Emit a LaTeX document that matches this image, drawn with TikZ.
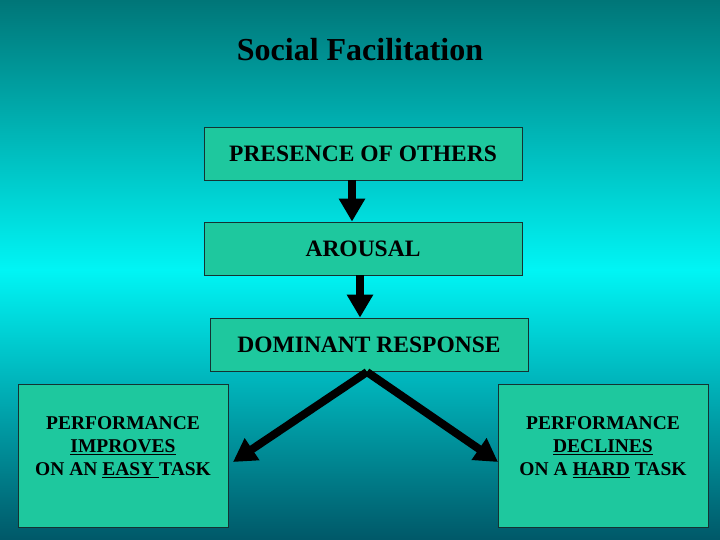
\documentclass[tikz,border=0pt]{standalone}
\usepackage{fontspec}
\setmainfont{Liberation Serif}
\usetikzlibrary{arrows.meta}
\definecolor{bgtop}{RGB}{0,118,120}
\definecolor{bgmid}{RGB}{0,245,245}
\definecolor{bgbot}{RGB}{0,88,104}
\definecolor{boxfill}{RGB}{30,200,158}
\definecolor{boxline}{RGB}{20,50,50}
\tikzset{
  stagebox/.style={draw=boxline, line width=0.8pt, fill=boxfill, inner sep=0pt, font=\bfseries\fontsize{23.5}{28}\selectfont},
  outbox/.style={draw=boxline, line width=0.8pt, fill=boxfill, inner sep=0pt, minimum width=210pt, minimum height=143pt},
  outtext/.style={align=center, inner sep=0pt, font=\bfseries\fontsize{19.5}{23}\selectfont},
  bigarrow/.style={line width=8pt, -{Triangle[length=23pt,width=25pt]}, black},
}
\begin{document}
\begin{tikzpicture}[x=1pt,y=-1pt]
\useasboundingbox (0,0) rectangle (720,540);
\shade[top color=bgtop, bottom color=bgbot, middle color=bgmid] (0,0) rectangle (720,540);
\node[font=\bfseries\fontsize{32}{36}\selectfont] (title) at (360,50) {Social Facilitation};
\node[stagebox, minimum width=318pt, minimum height=53pt] (presence) at (363,153.5) {PRESENCE OF OTHERS};
\node[stagebox, minimum width=318pt, minimum height=53pt] (arousal) at (363,248.5) {AROUSAL};
\node[stagebox, minimum width=318pt, minimum height=53pt] (dominant) at (369,344.5) {DOMINANT RESPONSE};
\node[outbox] (improves) at (123,455.5) {};
\node[outtext] (improvestext) at (123,447) {PERFORMANCE\\\underline{IMPROVES}\\ON AN \underline{EASY\ }TASK};
\node[outbox] (declines) at (603,455.5) {};
\node[outtext] (declinestext) at (603,447) {PERFORMANCE\\\underline{DECLINES}\\ON A \underline{HARD} TASK};
\coordinate (apex) at (367,372);
\coordinate (ltip) at (233,462);
\coordinate (rtip) at (498,462);
\draw[bigarrow] (presence.south -| 352,0) -- (arousal.north -| 352,0);
\draw[bigarrow] (arousal.south -| 360,0) -- (dominant.north -| 360,0);
\draw[bigarrow] (apex) -- (ltip);
\draw[bigarrow] (apex) -- (rtip);
\end{tikzpicture}
\end{document}
